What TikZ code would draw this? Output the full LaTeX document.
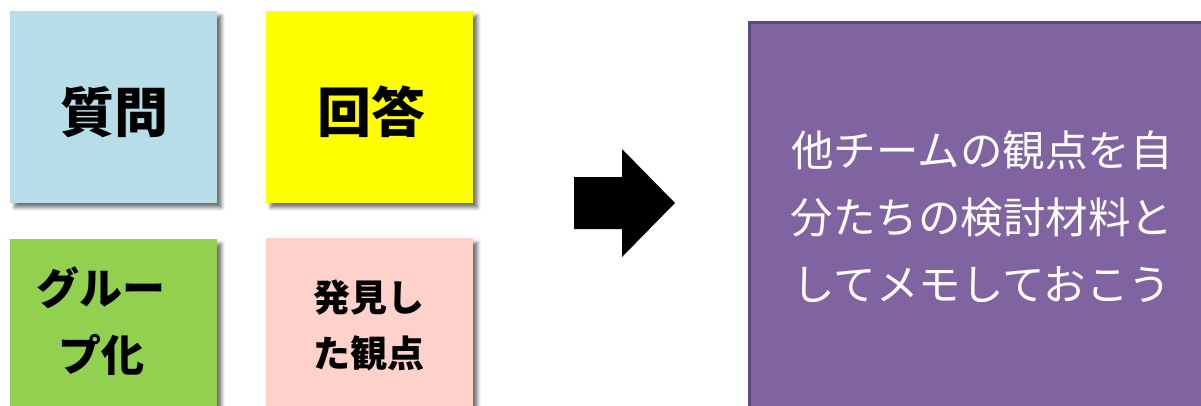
\documentclass[tikz,border=0pt]{standalone}
\usepackage{fontspec}
\newfontfamily\jp{Noto Sans CJK JP}
\usetikzlibrary{shadows.blur}
\definecolor{noteblue}{HTML}{B7DDE8}
\definecolor{noteyellow}{HTML}{FFFF00}
\definecolor{notegreen}{HTML}{92D050}
\definecolor{notepink}{HTML}{FFD1CB}
\definecolor{memofill}{HTML}{8064A2}
\definecolor{memoline}{HTML}{5C4A7E}
\tikzset{
  note/.style={draw=none, inner sep=0pt, anchor=north west,
    blur shadow={shadow xshift=4.5pt, shadow yshift=-4.5pt, shadow blur radius=3.5pt, shadow opacity=55}},
  notetext/.style={font=\jp\bfseries, text=black, align=center, inner sep=0pt},
  memo/.style={fill=memofill, draw=memoline, line width=3pt, inner sep=0pt, anchor=north west},
}
\begin{document}
\begin{tikzpicture}[x=1pt,y=1pt]
\useasboundingbox (0,0) rectangle (1201,-405);
% sticky notes
\node[note, fill=noteblue, minimum width=207pt, minimum height=192pt] (q) at (10,-11) {};
\node[note, fill=noteyellow, minimum width=207pt, minimum height=192pt] (a) at (266,-11) {};
\node[note, fill=notegreen, minimum width=207pt, minimum height=192pt] (g) at (10,-239) {};
\node[note, fill=notepink, minimum width=207pt, minimum height=192pt] (p) at (266,-238) {};
% texts
\node[notetext, font=\jp\bfseries\fontsize{54}{60}\selectfont] (qt) at (114,-112) {質問};
\node[notetext, font=\jp\bfseries\fontsize{54}{60}\selectfont] (at) at (371.5,-112) {回答};
\node[notetext, font=\jp\bfseries\fontsize{43}{67}\selectfont] (gt) at (101,-321) {グルー\\プ化};
\node[notetext, font=\jp\bfseries\fontsize{37}{56}\selectfont] (pt) at (369,-325) {発見し\\た観点};
% block arrow
\fill[black] (574,-177) -- (622,-177) -- (622,-149) -- (675,-203) -- (622,-257) -- (622,-229) -- (574,-229) -- cycle;
% memo box
\node[memo, minimum width=480pt, minimum height=420pt] (m) at (748,-21) {};
\node[font=\jp\fontsize{42.5}{67}\selectfont, text=white, align=center, inner sep=0pt] (mt) at (982,-217)
  {他チームの観点を自\\分たちの検討材料と\\してメモしておこう};
\end{tikzpicture}
\end{document}
